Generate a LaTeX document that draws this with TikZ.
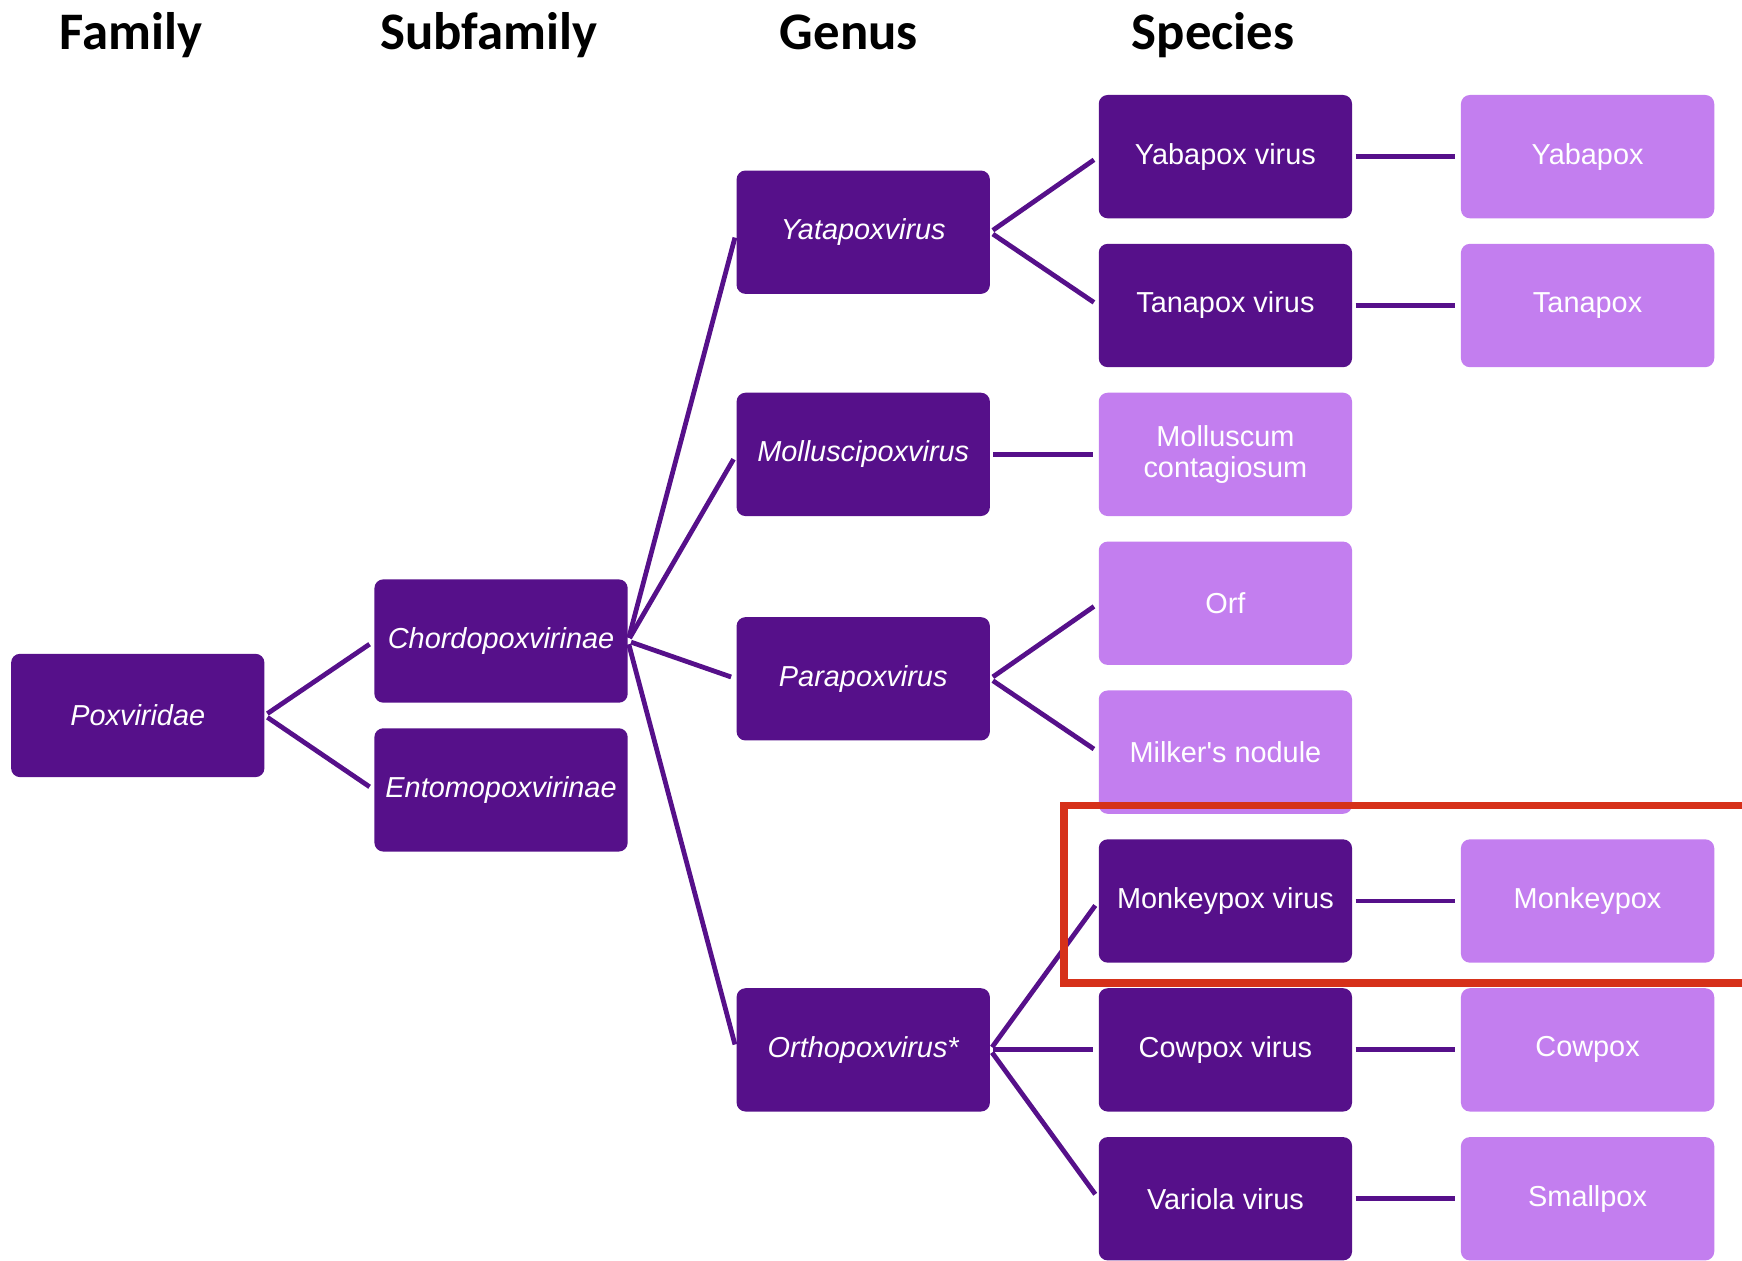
\documentclass[tikz,border=0pt]{standalone}
\usepackage{fontspec}
\setmainfont{Liberation Sans}[Ligatures=TeXOff]
\newfontfamily\headfont{Carlito}
\usepackage{tikz}
\usetikzlibrary{positioning}
\definecolor{darkpurple}{HTML}{56108A}
\definecolor{lightpurple}{HTML}{C37EEF}
\definecolor{markred}{HTML}{D6311A}

\begin{document}
\begin{tikzpicture}[x=1pt,y=-1pt]
\tikzstyle{taxon} = [fill=darkpurple, text=white, rounded corners=8pt, minimum width=228pt, minimum height=111pt, inner sep=0pt, align=center, font=\fontsize{26}{28}\selectfont]
\tikzstyle{disease} = [taxon, fill=lightpurple]
\tikzstyle{branch} = [draw=darkpurple, line width=4.3pt, shorten <=3pt, shorten >=5pt]
\tikzstyle{header} = [anchor=base, font=\headfont\bfseries\fontsize{47.5}{50}\selectfont]
\useasboundingbox (0,0) rectangle (1568,1135);
% column headings
\node[header] (hfam) at (118,45) {Family};
\node[header] (hsub) at (440,45) {Subfamily};
\node[header] (hgen) at (764,45) {Genus};
\node[header] (hspe) at (1092,45) {Species};
% family and subfamilies
\node[taxon] (pox) at (124,644) {\itshape Poxviridae};
\node[taxon] (chordo) at (451,577) {\itshape Chordopoxvirinae};
\node[taxon] (ento) at (451,711) {\itshape Entomopoxvirinae};
% genera
\node[taxon] (yata) at (777,209) {\itshape Yatapoxvirus};
\node[taxon] (mollus) at (777,409) {\itshape Molluscipoxvirus};
\node[taxon] (para) at (777,611) {\itshape Parapoxvirus};
\node[taxon] (ortho) at (777,945) {\itshape Orthopoxvirus*};
% species
\node[taxon] (yabav) at (1103,141) {Yabapox virus};
\node[taxon] (tanav) at (1103,275) {Tanapox virus};
\node[disease] (mcont) at (1103,409) {Molluscum\\contagiosum};
\node[disease] (orf) at (1103,543) {Orf};
\node[disease] (milk) at (1103,677) {Milker's nodule};
\node[taxon] (monkv) at (1103,811) {Monkeypox virus};
\node[taxon] (cowv) at (1103,945) {Cowpox virus};
\node[taxon] (vari) at (1103,1079) {Variola virus};
% diseases
\node[disease] (yaba) at (1429,141) {Yabapox};
\node[disease] (tana) at (1429,275) {Tanapox};
\node[disease] (monk) at (1429,811) {Monkeypox};
\node[disease] (cow) at (1429,945) {Cowpox};
\node[disease] (small) at (1429,1079) {Smallpox};
% branches
\draw[branch] (pox.east) -- (chordo.west);
\draw[branch] (pox.east) -- (ento.west);
\foreach \g in {yata,mollus,para,ortho}
  \draw[branch] (chordo.east) -- (\g.west);
\draw[branch] (yata.east) -- (yabav.west);
\draw[branch] (yata.east) -- (tanav.west);
\draw[branch] (mollus.east) -- (mcont.west);
\draw[branch] (para.east) -- (orf.west);
\draw[branch] (para.east) -- (milk.west);
\draw[branch] (ortho.east) -- (monkv.west);
\draw[branch] (ortho.east) -- (cowv.west);
\draw[branch] (ortho.east) -- (vari.west);
\draw[branch] (yabav.east) -- (yaba.west);
\draw[branch] (tanav.east) -- (tana.west);
\draw[branch] (monkv.east) -- (monk.west);
\draw[branch] (cowv.east) -- (cow.west);
\draw[branch] (vari.east) -- (small.west);
% highlight
\draw[markred, line width=7pt] (1590,725) -- (958,725) -- (958,885) -- (1590,885);
\end{tikzpicture}
\end{document}
